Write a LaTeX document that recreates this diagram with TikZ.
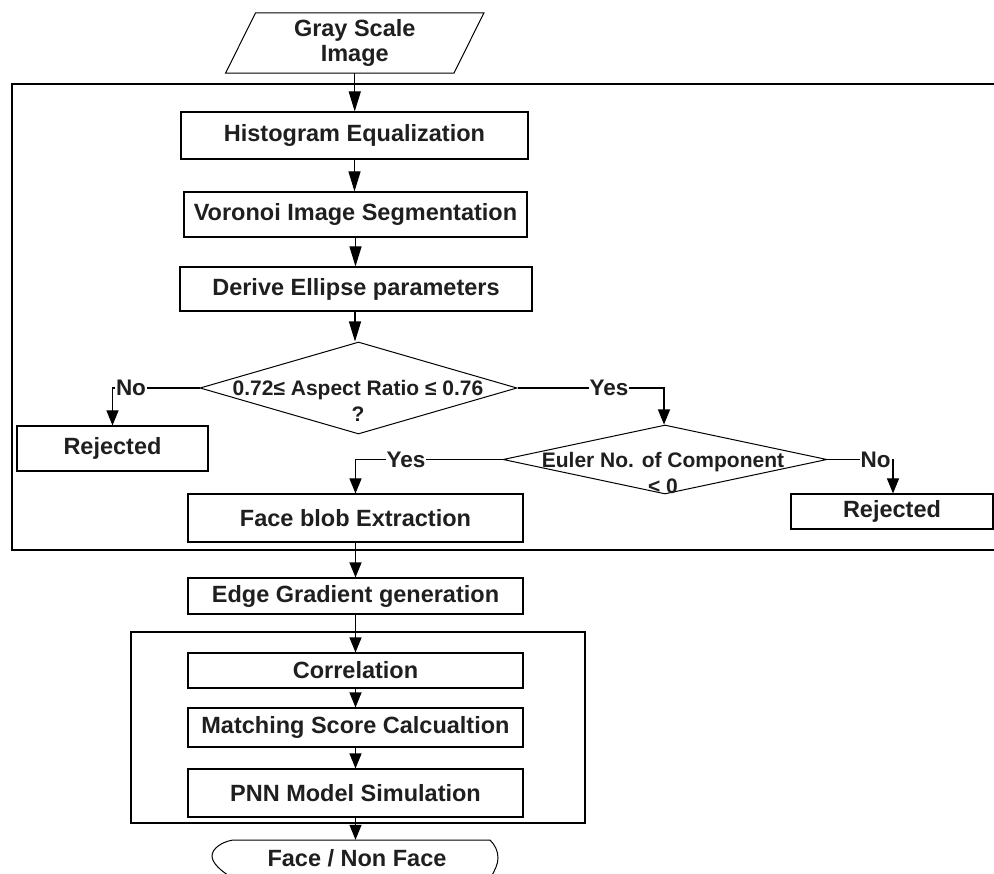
\documentclass[tikz,border=0pt]{standalone}
\usepackage{fontspec}
\setmainfont{Liberation Sans}
\usetikzlibrary{shapes.geometric,arrows.meta}
\begin{document}
\begin{tikzpicture}[x=1pt,y=-1pt,
  every node/.style={font=\bfseries\fontsize{23.5}{24}\selectfont, inner sep=0pt, text=black!88},
  box/.style={draw, rectangle, line width=1.1pt},
  frame/.style={draw, line width=1.1pt},
  dia/.style={draw, diamond, line width=1pt, inner sep=0pt},
  dtext/.style={font=\bfseries\fontsize{21}{26.5}\selectfont, align=center},
  lab/.style={fill=white, font=\bfseries\fontsize{22.5}{22.5}\selectfont, inner sep=1pt},
  arr/.style={line width=1.1pt, -{Triangle[length=15pt,width=12pt]}},
  arrL/.style={line width=1.1pt, -{Triangle[length=20pt,width=12pt]}}
]
\useasboundingbox (0,0) rectangle (994,874);

% outer frames
\draw[frame] (1000,84) -- (12,84) -- (12,550) -- (1000,550);
\draw[frame] (131,632) rectangle (585,823);

% input parallelogram
\node[minimum width=228pt, minimum height=60pt, align=center,
      font=\bfseries\fontsize{23.5}{25.5}\selectfont] (gsi) at (354.75,43) {Gray Scale\\Image};
\draw[line width=1pt] ([xshift=15pt]gsi.north west) -- ([xshift=15pt]gsi.north east)
  -- ([xshift=-15pt]gsi.south east) -- ([xshift=-15pt]gsi.south west) -- cycle;

% main boxes
\node[box, minimum width=347pt, minimum height=47pt] (hist) at (354.5,135.5) {Histogram Equalization};
\node[box, minimum width=343pt, minimum height=45pt] (vor) at (355.5,214.5) {Voronoi Image Segmentation};
\node[box, minimum width=352pt, minimum height=44pt] (der) at (356,289) {Derive Ellipse parameters};

% decisions
\node[dia, minimum width=317pt, minimum height=92pt] (d1) at (358.5,388) {};
\node[dtext] (d1t) at (358,401) {0.72≤ Aspect Ratio ≤ 0.76\\?};
\node[dia, minimum width=324pt, minimum height=69pt] (d2) at (665,459.5) {};
\node[dtext] (d2t) at (663,473) {Euler No. of Component\\< 0};

\node[box, minimum width=191pt, minimum height=45pt] (rejL) at (112.5,448.5) {Rejected};
\node[box, minimum width=202pt, minimum height=35pt] (rejR) at (892,511.5) {Rejected};
\node[box, minimum width=335pt, minimum height=48pt] (face) at (355.5,518) {Face blob Extraction};

% lower part
\node[box, minimum width=335pt, minimum height=36pt] (edge) at (355.5,596) {Edge Gradient generation};
\node[box, minimum width=335pt, minimum height=35pt] (corr) at (355.5,670.5) {Correlation};
\node[box, minimum width=335pt, minimum height=39pt] (match) at (355.5,727.5) {Matching Score Calcualtion};
\node[box, minimum width=335pt, minimum height=48pt] (pnn) at (355.5,793) {PNN Model Simulation};

% terminator (cut by the lower page edge)
\node[minimum width=266pt, minimum height=36pt] (fnf) at (357,858) {Face / Non Face};
\draw[line width=1pt] (233,840) -- (490,840)
  .. controls (495,845) and (498,851) .. (498,858)
  .. controls (498,864) and (495,870) .. (491,877)
  -- (231,877)
  .. controls (221,871) and (212,863) .. (212,856)
  .. controls (212,849) and (221,842) .. (233,840) -- cycle;

% connectors
\draw[arrL] (gsi.south) -- (gsi.south |- hist.north);
\draw[arrL] (hist.south) -- (hist.south |- vor.north);
\draw[arrL] (vor.south) -- (vor.south |- der.north);
\draw[arrL] ([xshift=-1pt]der.south) -- ([xshift=-1pt]der.south |- d1.north);

\draw[arr] (d1.west) -| (rejL.north);
\node[lab] (no1) at (131,388) {No};
\draw[arr] (d1.east) -| ([xshift=-1pt]d2.north);
\node[lab] (yes1) at (609,388) {Yes};
\draw[arr] (d2.west) -| (face.north);
\node[lab] (yes2) at (406,459.5) {Yes};
\draw[arr] (d2.east) -| ([xshift=1pt]rejR.north);
\node[lab] (no2) at (875.5,459.5) {No};

\draw[arr] (face.south) -- (face.south |- edge.north);
\draw[arr] (edge.south) -- (edge.south |- corr.north);
\draw[arr] (corr.south) -- (corr.south |- match.north);
\draw[arr] (match.south) -- (match.south |- pnn.north);
\draw[arr] (pnn.south) -- (pnn.south |- fnf.north);
\end{tikzpicture}
\end{document}
